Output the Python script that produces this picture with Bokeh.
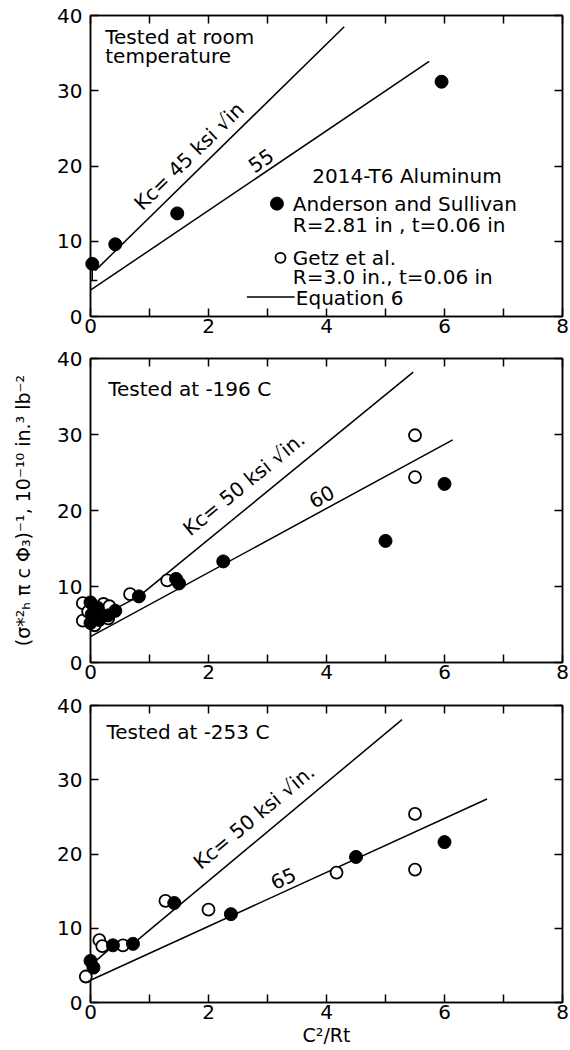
import math
from bokeh.plotting import figure
from bokeh.layouts import column
from bokeh.models import (LinearAxis, FixedTicker, Range1d, Label, Whisker, TeeHead,
                          ColumnDataSource)
from bokeh.embed import file_html
from bokeh.resources import INLINE

# ---------------- data ----------------
x_tick_values = [0, 2, 4, 6, 8]
x_minor_values = [1, 3, 5, 7]
y_tick_values = [0, 10, 20, 30, 40]

# Panel 1: tested at room temperature
rt_anderson_x = [0.03, 0.42, 1.47, 5.95]
rt_anderson_y = [7.0, 9.6, 13.7, 31.2]
rt_range_x = [0.03]
rt_range_low = [4.8]
rt_range_high = [7.0]
rt_kc45_x = [0.08, 4.30]
rt_kc45_y = [6.1, 38.5]
rt_kc55_x = [0.0, 5.74]
rt_kc55_y = [3.5, 33.9]

# Panel 2: tested at -196 C
m196_anderson_x = [0.0, 0.02, 0.0, 0.12, 0.15, 0.30, 0.42, 0.82, 1.45, 1.50, 2.25, 5.00, 6.00]
m196_anderson_y = [7.9, 6.3, 5.2, 7.2, 5.6, 6.2, 6.8, 8.7, 11.0, 10.4, 13.3, 16.0, 23.5]
m196_getz_x = [-0.13, -0.13, -0.04, 0.07, 0.22, 0.32, 0.30, 0.67, 1.30, 5.50, 5.50]
m196_getz_y = [7.8, 5.5, 6.7, 4.9, 7.7, 7.4, 5.8, 9.0, 10.8, 29.9, 24.4]
m196_kc50_x = [0.40, 0.82, 5.47]
m196_kc50_y = [7.0, 8.7, 38.2]
m196_kc60_x = [0.0, 6.14]
m196_kc60_y = [3.4, 29.3]

# Panel 3: tested at -253 C
m253_anderson_x = [0.0, 0.05, 0.38, 0.72, 1.42, 2.38, 4.50, 6.00]
m253_anderson_y = [5.6, 4.7, 7.7, 7.9, 13.4, 11.9, 19.6, 21.6]
m253_getz_x = [-0.25, -0.25, -0.08, 0.15, 0.20, 0.55, 1.27, 2.00, 4.17, 5.50, 5.50]
m253_getz_y = [4.5, 3.6, 3.5, 8.4, 7.6, 7.7, 13.7, 12.5, 17.5, 25.4, 17.9]
m253_kc50_x = [0.0, 0.38, 0.72, 5.28]
m253_kc50_y = [5.0, 7.6, 7.9, 38.1]
m253_kc65_x = [0.0, 6.72]
m253_kc65_y = [3.0, 27.4]

# ---------------- styling ----------------
FONT = "DejaVu Sans"
FS = "20px"
W = 570
B_LEFT, B_RIGHT = 90, 8
FRAME_W = W - B_LEFT - B_RIGHT


def style_axis(ax, labels=True):
    ax.axis_line_color = "black"
    ax.axis_line_width = 1.5
    ax.major_tick_line_color = "black"
    ax.major_tick_line_width = 1.5
    ax.minor_tick_line_color = "black"
    ax.minor_tick_line_width = 1.5
    ax.major_tick_in = 8
    ax.major_tick_out = 0
    ax.minor_tick_in = 8
    ax.minor_tick_out = 0
    ax.major_label_text_font = FONT
    ax.major_label_text_color = "black"
    if labels:
        ax.major_label_text_font_size = FS
    else:
        ax.major_label_text_font_size = "0px"
        ax.major_label_standoff = 0


def make_panel(height, top, bottom, x_title=None, y_title=None):
    p = figure(width=W, height=height, x_range=Range1d(0, 8), y_range=Range1d(0, 40),
               x_axis_type=None, y_axis_type=None, output_backend="svg",
               toolbar_location=None, min_border_left=B_LEFT, min_border_right=B_RIGHT,
               min_border_top=top, min_border_bottom=bottom)
    p.outline_line_color = "black"
    p.outline_line_width = 1.5
    p.background_fill_color = "white"
    p.border_fill_color = "white"

    below = LinearAxis(ticker=FixedTicker(ticks=x_tick_values, minor_ticks=x_minor_values))
    style_axis(below)
    below.major_label_standoff = 2
    if x_title:
        below.axis_label = x_title
        below.axis_label_text_font = FONT
        below.axis_label_text_font_size = "19px"
        below.axis_label_text_font_style = "normal"
        below.axis_label_text_color = "black"
        below.axis_label_standoff = 2
    p.add_layout(below, "below")

    above = LinearAxis(ticker=FixedTicker(ticks=x_tick_values, minor_ticks=x_minor_values))
    style_axis(above, labels=False)
    above.major_label_overrides = {float(t): "" for t in x_tick_values}
    p.add_layout(above, "above")

    left = LinearAxis(ticker=FixedTicker(ticks=y_tick_values))
    style_axis(left)
    left.major_label_standoff = 8
    if y_title:
        left.axis_label = y_title
        left.axis_label_text_font = FONT
        left.axis_label_text_font_size = "19px"
        left.axis_label_text_font_style = "normal"
        left.axis_label_text_color = "black"
        left.axis_label_standoff = 20
    p.add_layout(left, "left")

    right = LinearAxis(ticker=FixedTicker(ticks=y_tick_values))
    style_axis(right, labels=False)
    right.major_label_overrides = {float(t): "" for t in y_tick_values}
    p.add_layout(right, "right")
    return p


def screen_angle(xs, ys, frame_h):
    slope = (ys[-1] - ys[-2]) / (xs[-1] - xs[-2])
    return math.atan(slope * (frame_h / 40.0) / (FRAME_W / 8.0))


def add_text(p, x, y, text, angle=0.0, align="left"):
    p.add_layout(Label(x=x, y=y, text=text, angle=angle, text_align=align,
                       text_baseline="middle", text_font=FONT, text_font_size=FS,
                       text_color="black"))


def draw_series(p, lines, getz_x, getz_y, and_x, and_y):
    for lx, ly in lines:
        p.line(lx, ly, line_color="black", line_width=1.5)
    if getz_x:
        p.scatter(getz_x, getz_y, marker="circle", size=12, fill_color="white",
                  line_color="black", line_width=1.8, level="overlay")
    p.scatter(and_x, and_y, marker="circle", size=13, fill_color="black",
              line_color="black", line_width=1, level="overlay")


# ---------------- panel 1 ----------------
H1, T1, Bm1 = 343, 15, 27
p1 = make_panel(H1, T1, Bm1)
fh1 = H1 - T1 - Bm1
rng = ColumnDataSource(dict(x=rt_range_x, low=rt_range_low, high=rt_range_high))
p1.add_layout(Whisker(source=rng, base="x", lower="low", upper="high", dimension="height",
                      upper_head=None, lower_head=TeeHead(size=10, line_width=1.5),
                      line_width=1.5, line_color="black"))
draw_series(p1, [(rt_kc45_x, rt_kc45_y), (rt_kc55_x, rt_kc55_y)],
            [], [], rt_anderson_x, rt_anderson_y)
add_text(p1, 0.25, 37.1, "Tested at room")
add_text(p1, 0.25, 34.6, "temperature")
add_text(p1, 1.67, 21.3, "Kc= 45 ksi √in", screen_angle(rt_kc45_x, rt_kc45_y, fh1), "center")
add_text(p1, 2.89, 20.7, "55", screen_angle(rt_kc55_x, rt_kc55_y, fh1), "center")

# key (legend) for the figure, drawn inside panel 1
add_text(p1, 3.76, 18.7, "2014-T6 Aluminum")
p1.scatter([3.16], [15.0], marker="circle", size=13, fill_color="black", line_color="black")
add_text(p1, 3.43, 15.0, "Anderson and Sullivan")
add_text(p1, 3.43, 12.1, "R=2.81 in , t=0.06 in")
p1.scatter([3.22], [7.8], marker="circle", size=10, fill_color="white", line_color="black",
           line_width=1.8)
add_text(p1, 3.43, 7.8, "Getz et al.")
add_text(p1, 3.43, 5.2, "R=3.0 in., t=0.06 in")
p1.line([2.65, 3.46], [2.6, 2.6], line_color="black", line_width=1.5)
add_text(p1, 3.48, 2.4, "Equation 6")

# ---------------- panel 2 ----------------
H2, T2, Bm2 = 347, 15, 28
p2 = make_panel(H2, T2, Bm2, y_title="(σ*²ₕ π c Φ₃)⁻¹, 10⁻¹⁰ in.³ lb⁻²")
fh2 = H2 - T2 - Bm2
draw_series(p2, [(m196_kc50_x, m196_kc50_y), (m196_kc60_x, m196_kc60_y)],
            m196_getz_x, m196_getz_y, m196_anderson_x, m196_anderson_y)
add_text(p2, 0.30, 36.0, "Tested at -196 C")
add_text(p2, 2.60, 23.5, "Kc= 50 ksi √in.", screen_angle(m196_kc50_x, m196_kc50_y, fh2), "center")
add_text(p2, 3.92, 21.8, "60", screen_angle(m196_kc60_x, m196_kc60_y, fh2), "center")

# ---------------- panel 3 ----------------
H3, T3, Bm3 = 360, 15, 48
p3 = make_panel(H3, T3, Bm3, x_title="C²/Rt")
fh3 = H3 - T3 - Bm3
draw_series(p3, [(m253_kc50_x, m253_kc50_y), (m253_kc65_x, m253_kc65_y)],
            m253_getz_x, m253_getz_y, m253_anderson_x, m253_anderson_y)
add_text(p3, 0.27, 36.4, "Tested at -253 C")
add_text(p3, 2.77, 25.0, "Kc= 50 ksi √in.", screen_angle(m253_kc50_x, m253_kc50_y, fh3), "center")
add_text(p3, 3.27, 16.7, "65", screen_angle(m253_kc65_x, m253_kc65_y, fh3), "center")

layout = column(p1, p2, p3, spacing=0)
open("out.html", "w").write(file_html(layout, INLINE))
